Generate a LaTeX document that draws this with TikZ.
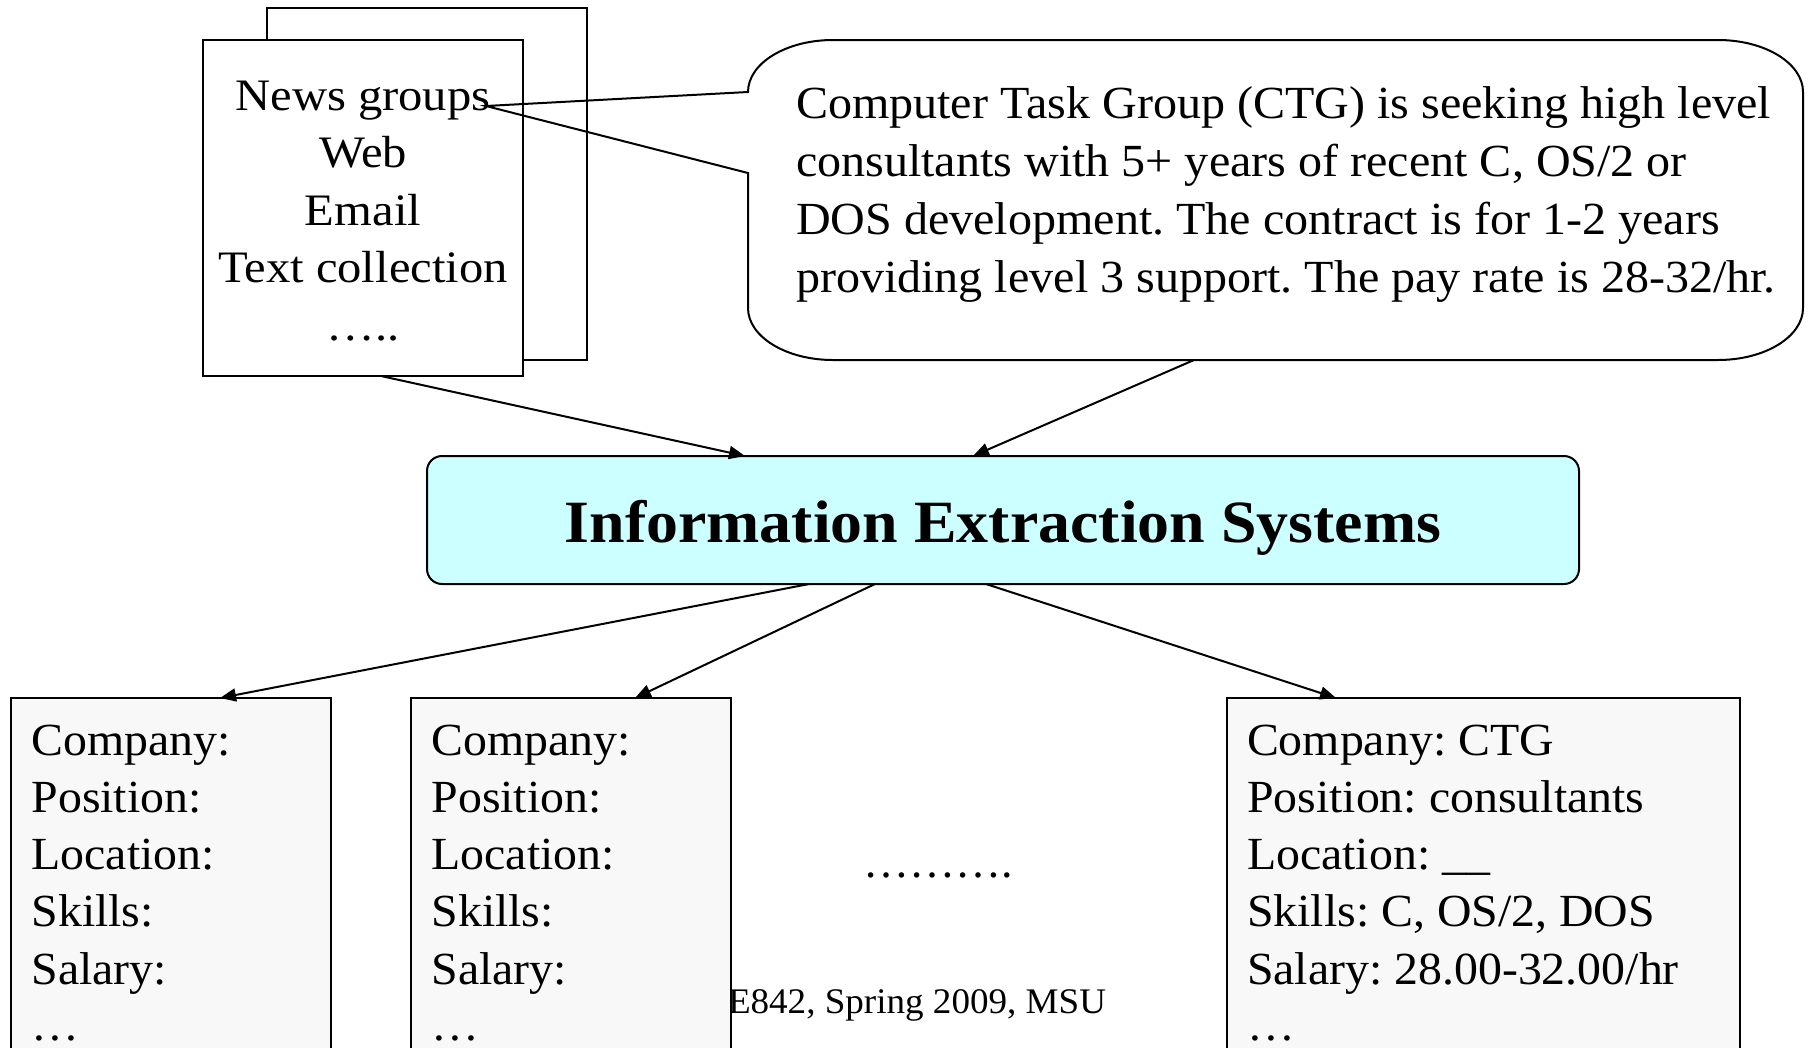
\documentclass[tikz,border=0pt]{standalone}
\usepackage{fontspec}
\setmainfont{Liberation Serif}
\newfontfamily\srcfont[FakeStretch=1.08]{Liberation Serif}
\newfontfamily\calfont[FakeStretch=1.045]{Liberation Serif}
\newfontfamily\slotfont[FakeStretch=1.04]{Liberation Serif}
\newfontfamily\titlefont[FakeStretch=1.065]{Liberation Serif}
\newfontfamily\footfont[FakeStretch=1.03]{Liberation Serif}
\usetikzlibrary{arrows.meta}
\definecolor{iecyan}{HTML}{CCFFFF}
\definecolor{slotfill}{HTML}{F8F8F8}
\frenchspacing
\begin{document}
\begin{tikzpicture}[x=1pt,y=-1pt,
  every node/.style={inner sep=0pt, outer sep=0pt},
  txt/.style={font=\slotfont\fontsize{46}{57.5}\selectfont, anchor=base west},
  caltxt/.style={font=\calfont\fontsize{46}{57.5}\selectfont, anchor=base west},
  srctxt/.style={font=\srcfont\fontsize{45}{57.5}\selectfont, anchor=base},
  border/.style={draw=black, line width=2pt},
  slotbox/.style={border, fill=slotfill, rectangle},
  conn/.style={line width=2pt, -{Triangle[length=16pt,width=13pt]}},
]
\clip (0,0) rectangle (1812,1047);
\fill[white] (0,0) rectangle (1812,1047);

% source documents
\node[border, fill=white, minimum width=320pt, minimum height=352pt] (back) at (427,184) {};
\node[border, fill=white, minimum width=320pt, minimum height=336pt] (src) at (363,208) {};
\node[srctxt] (s1) at (363,110) {News groups};
\node[srctxt] (s2) at (363,167) {Web};
\node[srctxt] (s3) at (363,225) {Email};
\node[srctxt] (s4) at (363,282) {Text collection};
\node[srctxt] (s5) at (363,340) {…..};

% callout
\coordinate (tip) at (486,106);
\draw[border] (833,40) -- (1718,40)
  .. controls (1765,40) and (1803,63.3) .. (1803,92)
  -- (1803,308)
  .. controls (1803,336.7) and (1765,360) .. (1718,360)
  -- (833,360)
  .. controls (786,360) and (748,336.7) .. (748,308)
  -- (748,173) -- (tip) -- (748,92)
  .. controls (748,63.3) and (786,40) .. (833,40) -- cycle;
\node[caltxt] (c1) at (796,118) {Computer Task Group (CTG) is seeking high level};
\node[caltxt] (c2) at (796,176) {consultants with 5+ years of recent C, OS/2 or};
\node[caltxt] (c3) at (796,234) {DOS development. The contract is for 1-2 years};
\node[caltxt] (c4) at (796,292) {providing level 3 support. The pay rate is 28-32/hr.};
\coordinate (calloutbot) at (1194,360);

% central box
\node[border, fill=iecyan, rounded corners=15pt, minimum width=1152pt, minimum height=128pt] (ies) at (1003,520) {};
\node[font=\titlefont\fontsize{60}{72}\selectfont\bfseries, anchor=base] (iet) at (1003,542) {Information Extraction Systems};

% footer
\node[font=\footfont\fontsize{36}{43}\selectfont, anchor=base west] (foot) at (728,1013) {E842, Spring 2009, MSU};

% result slots
\node[slotbox, minimum width=320pt, minimum height=402pt] (r1) at (171,899) {};
\node[slotbox, minimum width=320pt, minimum height=402pt] (r2) at (571,899) {};
\node[slotbox, minimum width=513pt, minimum height=402pt] (r3) at (1483,899) {};

\node[txt] (a1) at (31.5,755) {Company:};
\node[txt] (a2) at (31.5,812) {Position:};
\node[txt] (a3) at (31.5,869) {Location:};
\node[txt] (a4) at (31.5,926.5) {Skills:};
\node[txt] (a5) at (31.5,984) {Salary:};
\node[txt] (a6) at (31.5,1040) {…};

\node[txt] (b1) at (431.5,755) {Company:};
\node[txt] (b2) at (431.5,812) {Position:};
\node[txt] (b3) at (431.5,869) {Location:};
\node[txt] (b4) at (431.5,926.5) {Skills:};
\node[txt] (b5) at (431.5,984) {Salary:};
\node[txt] (b6) at (431.5,1040) {…};

\node[txt] (d1) at (1247,755) {Company: CTG};
\node[txt] (d2) at (1247,812) {Position: consultants};
\node[txt] (d3) at (1247,869) {Location: \_\_};
\node[txt] (d4) at (1247,926.5) {Skills: C, OS/2, DOS};
\node[txt] (d5) at (1247,984) {Salary: 28.00-32.00/hr};
\node[txt] (d6) at (1247,1040) {…};

\node[font=\fontsize{46}{57.5}\selectfont, anchor=base] (dots) at (938,877) {……….};

% connectors
\coordinate (srcout) at (381,376);
\coordinate (in1) at (745,456);
\coordinate (in2) at (973,456);
\coordinate (o1) at (809,584);
\coordinate (o2) at (875,584);
\coordinate (o3) at (986,584);
\coordinate (t1) at (220,698);
\coordinate (t2) at (635,698);
\coordinate (t3) at (1336,698);
\draw[conn] (srcout) -- (in1);
\draw[conn] (calloutbot) -- (in2);
\draw[conn] (o1) -- (t1);
\draw[conn] (o2) -- (t2);
\draw[conn] (o3) -- (t3);
\end{tikzpicture}
\end{document}
